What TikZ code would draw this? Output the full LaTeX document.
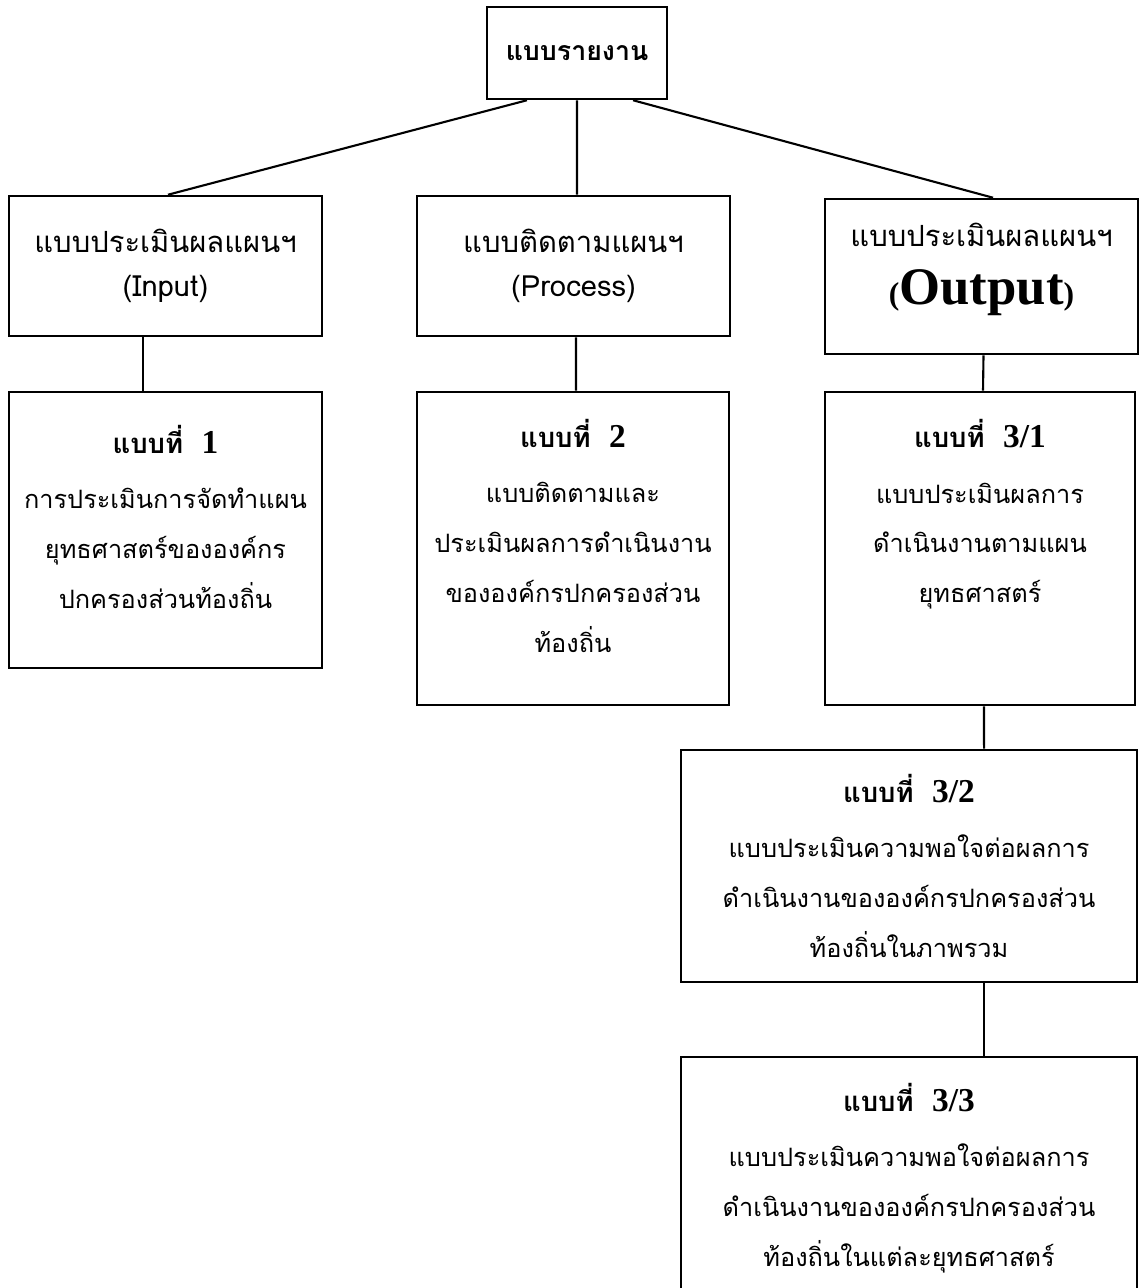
\documentclass[tikz,border=0pt]{standalone}
\usepackage{fontspec}
\usepackage{tikz}
\usetikzlibrary{calc, positioning}
\newfontfamily\thaifont[Script=Thai]{Loma}
\newfontfamily\romanfont{Liberation Serif}
\tikzstyle{topbox} = [rectangle, draw=black, line width=0.7pt, align=center,
text centered, font=\thaifont\bfseries\fontsize{7.6}{14}\selectfont]
\tikzstyle{planbox} = [rectangle, draw=black, line width=0.7pt, align=center,
text centered, inner xsep=0pt, minimum width=3.13cm, font=\thaifont\fontsize{8.3}{12.5}\selectfont]
\tikzstyle{formbox} = [rectangle, draw=black, line width=0.7pt, align=center,
text centered, inner xsep=0pt, font=\thaifont\fontsize{7.2}{14.2}\selectfont]
\tikzstyle{link} = [line width=0.6pt]
\newcommand{\formtitle}[1]{{\bfseries\fontsize{7.8}{14.2}\selectfont แบบที่\ \ {\romanfont\fontsize{9.5}{14.2}\selectfont #1}}\\[1.5pt]}

\begin{document}
\begin{tikzpicture}[x=0.01cm, y=-0.01cm]
  \useasboundingbox (0,0) rectangle (1139,1288);
  % top level
  \node[topbox, minimum width=1.8cm, minimum height=0.92cm] (report) at (577,53) {แบบรายงาน};
  % plans
  \node[planbox, minimum height=1.4cm] (input) at (165.5,266)
    {แบบประเมินผลแผนฯ \\ (Input)};
  \node[planbox, minimum height=1.4cm] (process) at (573.5,266)
    {แบบติดตามแผนฯ \\ (Process)};
  \node[planbox, minimum height=1.55cm] (output) at (981.5,276.5)
    {แบบประเมินผลแผนฯ \\[4pt] {\romanfont\bfseries\fontsize{9}{12.5}\selectfont(\fontsize{15}{12.5}\selectfont Output\fontsize{9}{12.5}\selectfont)} \\[-5pt] \mbox{}};
  % forms
  \node[formbox, minimum width=3.13cm, minimum height=2.76cm] (form1) at (165.5,530)
    {\formtitle{1} การประเมินการจัดทำแผน \\ ยุทธศาสตร์ขององค์กร \\ ปกครองส่วนท้องถิ่น \\[-6.5pt] \mbox{}};
  \node[formbox, minimum width=3.12cm, minimum height=3.13cm] (form2) at (573,548.5)
    {\formtitle{2} แบบติดตามและ \\ ประเมินผลการดำเนินงาน \\ ขององค์กรปกครองส่วน \\ ท้องถิ่น \\[-7pt] \mbox{}};
  \node[formbox, minimum width=3.10cm, minimum height=3.13cm] (form31) at (980,548.5)
    {\formtitle{3/1} แบบประเมินผลการ \\ ดำเนินงานตามแผน \\ ยุทธศาสตร์ \\[7pt] \mbox{}};
  \node[formbox, minimum width=4.56cm, minimum height=2.32cm] (form32) at (909,866)
    {\formtitle{3/2} แบบประเมินความพอใจต่อผลการ \\ ดำเนินงานขององค์กรปกครองส่วน \\ ท้องถิ่นในภาพรวม};
  \node[formbox, minimum width=4.56cm, minimum height=2.43cm] (form33) at (909,1178.5)
    {\formtitle{3/3} แบบประเมินความพอใจต่อผลการ \\ ดำเนินงานขององค์กรปกครองส่วน \\ ท้องถิ่นในแต่ละยุทธศาสตร์};
  % links
  \draw[link] ([xshift=-0.5cm]report.south) -- ([xshift=0.025cm]input.north);
  \draw[link] (report.south) -- ([xshift=0.035cm]process.north);
  \draw[link] ([xshift=0.56cm]report.south) -- ([xshift=0.115cm]output.north);
  \draw[link] ([xshift=-0.225cm]input.south) -- ([xshift=-0.225cm]form1.north);
  \draw[link] ([xshift=0.025cm]process.south) -- ([xshift=0.03cm]form2.north);
  \draw[link] ([xshift=0.02cm]output.south) -- ([xshift=0.03cm]form31.north);
  \draw[link] ([xshift=0.04cm]form31.south) -- ([xshift=0.75cm]form32.north);
  \draw[link] ([xshift=0.75cm]form32.south) -- ([xshift=0.75cm]form33.north);
\end{tikzpicture}
\end{document}
